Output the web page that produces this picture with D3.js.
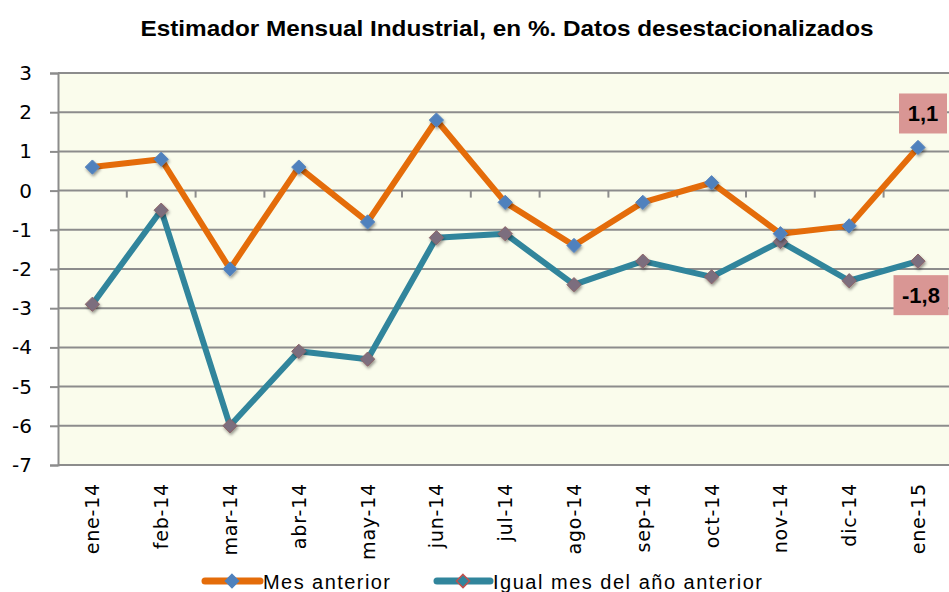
<!DOCTYPE html>
<html>
<head>
<meta charset="utf-8">
<script src="https://cdn.jsdelivr.net/npm/d3@7"></script>
<style>
  body { margin: 0; background: #fff; }
  svg { display: block; font-family: 'Liberation Sans', Arial, sans-serif; }
</style>
</head>
<body>
<svg id="chart" width="949" height="592"></svg>
<script>
// data
var months = ['ene-14','feb-14','mar-14','abr-14','may-14','jun-14','jul-14','ago-14','sep-14','oct-14','nov-14','dic-14','ene-15'];
var mesAnterior = [0.6, 0.8, -2.0, 0.6, -0.8, 1.8, -0.3, -1.4, -0.3, 0.2, -1.1, -0.9, 1.1];
var igualMes = [-2.9, -0.5, -6.0, -4.1, -4.3, -1.2, -1.1, -2.4, -1.8, -2.2, -1.3, -2.3, -1.8];
var yTicks = [3, 2, 1, 0, -1, -2, -3, -4, -5, -6, -7];
var seriesNames = ['Mes anterior', 'Igual mes del año anterior'];

var svg = d3.select('#chart');
var plotLeft = 58, plotTop = 73, plotBottom = 465, bandW = 68.8;

// plain hyphen instead of unicode minus, comma decimals
var fmtInt = d => String(d);
var fmtDec = d => d.toFixed(1).replace('.', ',');

var x = d3.scaleBand()
    .domain(months)
    .range([plotLeft, plotLeft + bandW * months.length]);

var y = d3.scaleLinear()
    .domain([-7, 3])
    .range([plotBottom, plotTop]);

// shadow for markers
var defs = svg.append('defs');
var f = defs.append('filter').attr('id', 'shadow').attr('x', '-50%').attr('y', '-50%').attr('width', '200%').attr('height', '200%');
f.append('feDropShadow').attr('dx', 1).attr('dy', 2).attr('stdDeviation', 1.8).attr('flood-color', '#000').attr('flood-opacity', 0.4);

// plot area background
svg.append('rect')
    .attr('x', plotLeft).attr('y', plotTop)
    .attr('width', 949 - plotLeft).attr('height', plotBottom - plotTop)
    .attr('fill', '#FAFCEC');

// title
svg.append('text')
    .attr('x', 507).attr('y', 36)
    .attr('text-anchor', 'middle')
    .attr('font-size', 22).attr('font-weight', 'bold')
    .attr('textLength', 733).attr('lengthAdjust', 'spacingAndGlyphs')
    .text('Estimador Mensual Industrial, en %. Datos desestacionalizados');

// gridlines
svg.append('g').selectAll('line.grid')
    .data(yTicks)
  .enter().append('line')
    .attr('class', 'grid')
    .attr('x1', plotLeft).attr('x2', 949)
    .attr('y1', d => y(d)).attr('y2', d => y(d))
    .attr('stroke', '#8c8c8c').attr('stroke-width', 2);

// y axis
var yAxis = svg.append('g')
    .attr('transform', 'translate(' + plotLeft + ',0)')
    .call(d3.axisLeft(y).tickValues(yTicks).tickSize(8).tickPadding(8).tickFormat(fmtInt));
yAxis.select('.domain').attr('stroke', '#8c8c8c').attr('stroke-width', 2);
yAxis.selectAll('.tick line').attr('stroke', '#8c8c8c').attr('stroke-width', 2);
yAxis.selectAll('.tick text')
    .attr('font-size', 20).attr('fill', '#000')
    .attr('font-family', "'DejaVu Sans', sans-serif")
    .attr('x', -26);

// category axis crossing at zero, ticks between categories
var xAxis = svg.append('g')
    .attr('transform', 'translate(0,' + y(0) + ')');
xAxis.selectAll('line.xtick')
    .data(months.slice(1))
  .enter().append('line')
    .attr('class', 'xtick')
    .attr('x1', d => x(d)).attr('x2', d => x(d))
    .attr('y1', 0).attr('y2', 7)
    .attr('stroke', '#8c8c8c').attr('stroke-width', 2);

// category labels at the bottom
svg.append('g').selectAll('text.xlab')
    .data(months)
  .enter().append('text')
    .attr('class', 'xlab')
    .attr('transform', d => 'translate(' + (x(d) + x.bandwidth() / 2 + 7) + ',' + (plotBottom + 18) + ') rotate(-90)')
    .attr('text-anchor', 'end')
    .attr('font-size', 19)
    .attr('font-family', "'DejaVu Sans', sans-serif")
    .attr('letter-spacing', 0.8)
    .text(d => d);

var cx = d => x(d) + x.bandwidth() / 2;

var line = d3.line()
    .x((d, i) => cx(months[i]))
    .y(d => y(d));

var diamond = d3.symbol().type(d3.symbolDiamond2).size(130);

// series 2: igual mes del año anterior
svg.append('path')
    .datum(igualMes)
    .attr('d', line)
    .attr('fill', 'none')
    .attr('stroke', '#31859C').attr('stroke-width', 6)
    .attr('stroke-linejoin', 'round');

// series 1: mes anterior
svg.append('path')
    .datum(mesAnterior)
    .attr('d', line)
    .attr('fill', 'none')
    .attr('stroke', '#E46C0A').attr('stroke-width', 6)
    .attr('stroke-linejoin', 'round');

svg.append('g').selectAll('path')
    .data(igualMes)
  .enter().append('path')
    .attr('d', diamond)
    .attr('transform', (d, i) => 'translate(' + cx(months[i]) + ',' + y(d) + ')')
    .attr('fill', '#7B6E7E').attr('stroke', '#8E6468').attr('stroke-width', 1)
    .attr('filter', 'url(#shadow)');

svg.append('g').selectAll('path')
    .data(mesAnterior)
  .enter().append('path')
    .attr('d', diamond)
    .attr('transform', (d, i) => 'translate(' + cx(months[i]) + ',' + y(d) + ')')
    .attr('fill', '#4F81BD').attr('stroke', '#5A86BD').attr('stroke-width', 1)
    .attr('filter', 'url(#shadow)');

// data labels for the last month
var last = months.length - 1;
var labels = [
  {v: mesAnterior[last], dy: -34, w: 48, dx: 5},
  {v: igualMes[last], dy: 34, w: 55, dx: 3}
];
var lab = svg.append('g').selectAll('g')
    .data(labels)
  .enter().append('g')
    .attr('transform', d => 'translate(' + (cx(months[last]) + d.dx) + ',' + (y(d.v) + d.dy) + ')');
lab.append('rect')
    .attr('x', d => -d.w / 2).attr('y', -20)
    .attr('width', d => d.w).attr('height', 40)
    .attr('fill', '#D99694');
lab.append('text')
    .attr('text-anchor', 'middle').attr('dy', 8)
    .attr('font-size', 22).attr('font-weight', 'bold')
    .text(d => fmtDec(d.v));

// legend
var legend = [
  {name: seriesNames[0], color: '#E46C0A', x1: 205, x2: 260, mx: 232, tx: 263, tw: 127},
  {name: seriesNames[1], color: '#31859C', x1: 437, x2: 490, mx: 463, tx: 493, tw: 269}
];
var lg = svg.append('g').selectAll('g')
    .data(legend)
  .enter().append('g');
lg.append('line')
    .attr('x1', d => d.x1).attr('x2', d => d.x2)
    .attr('y1', 581).attr('y2', 581)
    .attr('stroke', d => d.color).attr('stroke-width', 7)
    .attr('stroke-linecap', 'round');
lg.append('path')
    .attr('d', d3.symbol().type(d3.symbolDiamond2).size(110))
    .attr('transform', d => 'translate(' + d.mx + ',581)')
    .attr('fill', (d, i) => i === 0 ? '#4F81BD' : '#31859C')
    .attr('stroke', (d, i) => i === 0 ? '#4F81BD' : '#C0504D')
    .attr('stroke-width', 1.5);
lg.append('text')
    .attr('x', d => d.tx).attr('y', 589)
    .attr('font-size', 20)
    .attr('textLength', d => d.tw).attr('lengthAdjust', 'spacing')
    .text(d => d.name);
</script>
</body>
</html>
